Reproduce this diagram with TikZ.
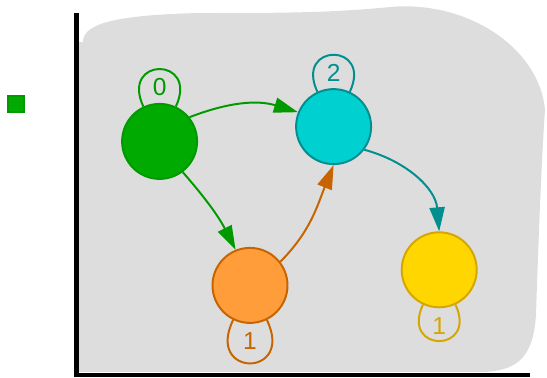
\documentclass[tikz,border=0pt]{standalone}
\usepackage{fontspec}
\setmainfont{Liberation Sans}
\usetikzlibrary{arrows.meta}
\definecolor{blob}{HTML}{DDDDDD}
\definecolor{gfill}{HTML}{00AA00}
\definecolor{gline}{HTML}{009A00}
\definecolor{cfill}{HTML}{00D0D0}
\definecolor{cline}{HTML}{008E8E}
\definecolor{ofill}{HTML}{FF9D3B}
\definecolor{oline}{HTML}{C86400}
\definecolor{yfill}{HTML}{FFD600}
\definecolor{yline}{HTML}{D6A600}

\begin{document}
\begin{tikzpicture}[
  state/.style={circle, line width=1.4pt, minimum size=1.875cm, inner sep=0pt},
  arr/.style={-{Triangle[length=6mm,width=3.8mm]}, line width=1.4pt},
  selfloop/.style={line width=1.4pt},
  lbl/.style={font=\fontsize{17.5}{20}\selectfont, inner sep=0pt},
]
\useasboundingbox (0,0) rectangle (13.675,9.425);
% background region
\fill[blob] (1.95,0.125) -- (1.95,8.375) -- (2.075,8.375)
  .. controls (2.075,8.8) and (2.75,9.05) .. (5.0,9.1)
  .. controls (7.0,9.1) and (8.25,9.1) .. (9.75,9.25)
  .. controls (11.75,9.425) and (13.5,8.175) .. (13.625,6.675)
  .. controls (13.55,5.675) and (13.45,3.175) .. (13.4,1.55)
  .. controls (13.325,0.425) and (12.875,0.175) .. (12.125,0.125)
  -- cycle;
% axes
\draw[line width=0.11cm] (1.9125,9.1) |- (13.25,0.05);
% legend key
\node[draw=gline, fill=gfill, line width=1pt, minimum size=0.4cm, inner sep=0pt]
  (key) at (0.395,6.825) {};
% states
\node[state, fill=gfill, draw=gline] (grn) at (3.99,5.89) {};
\node[state, fill=cfill, draw=cline] (cyn) at (8.34,6.26) {};
\node[state, fill=ofill, draw=oline] (org) at (6.25,2.29) {};
\node[state, fill=yfill, draw=yline] (ylw) at (10.98,2.68) {};
% self loops
\draw[selfloop, gline] (grn.115) .. controls +(115:1.38) and +(65:1.38) ..
  node[lbl, yshift=-0.44cm] {0} (grn.65);
\draw[selfloop, cline] (cyn.115) .. controls +(115:1.36) and +(65:1.36) ..
  node[lbl, yshift=-0.45cm] {2} (cyn.65);
\draw[selfloop, oline] (org.-116) .. controls +(-116:1.61) and +(-64:1.61) ..
  node[lbl, yshift=0.56cm] {1} (org.-64);
\draw[selfloop, yline] (ylw.-115) .. controls +(-115:1.34) and +(-65:1.34) ..
  node[lbl, yshift=0.38cm] {1} (ylw.-65);
% transitions
\draw[arr, gline] (grn.39) to[out=21, in=163] (cyn.158);
\draw[arr, gline] (grn.-53) to[out=-49, in=117] (org.112);
\draw[arr, oline] (org.38) to[out=45, in=-112] (cyn.-90);
\draw[arr, cline] (cyn.-37) to[out=-15, in=95] (ylw.90);
\end{tikzpicture}
\end{document}
